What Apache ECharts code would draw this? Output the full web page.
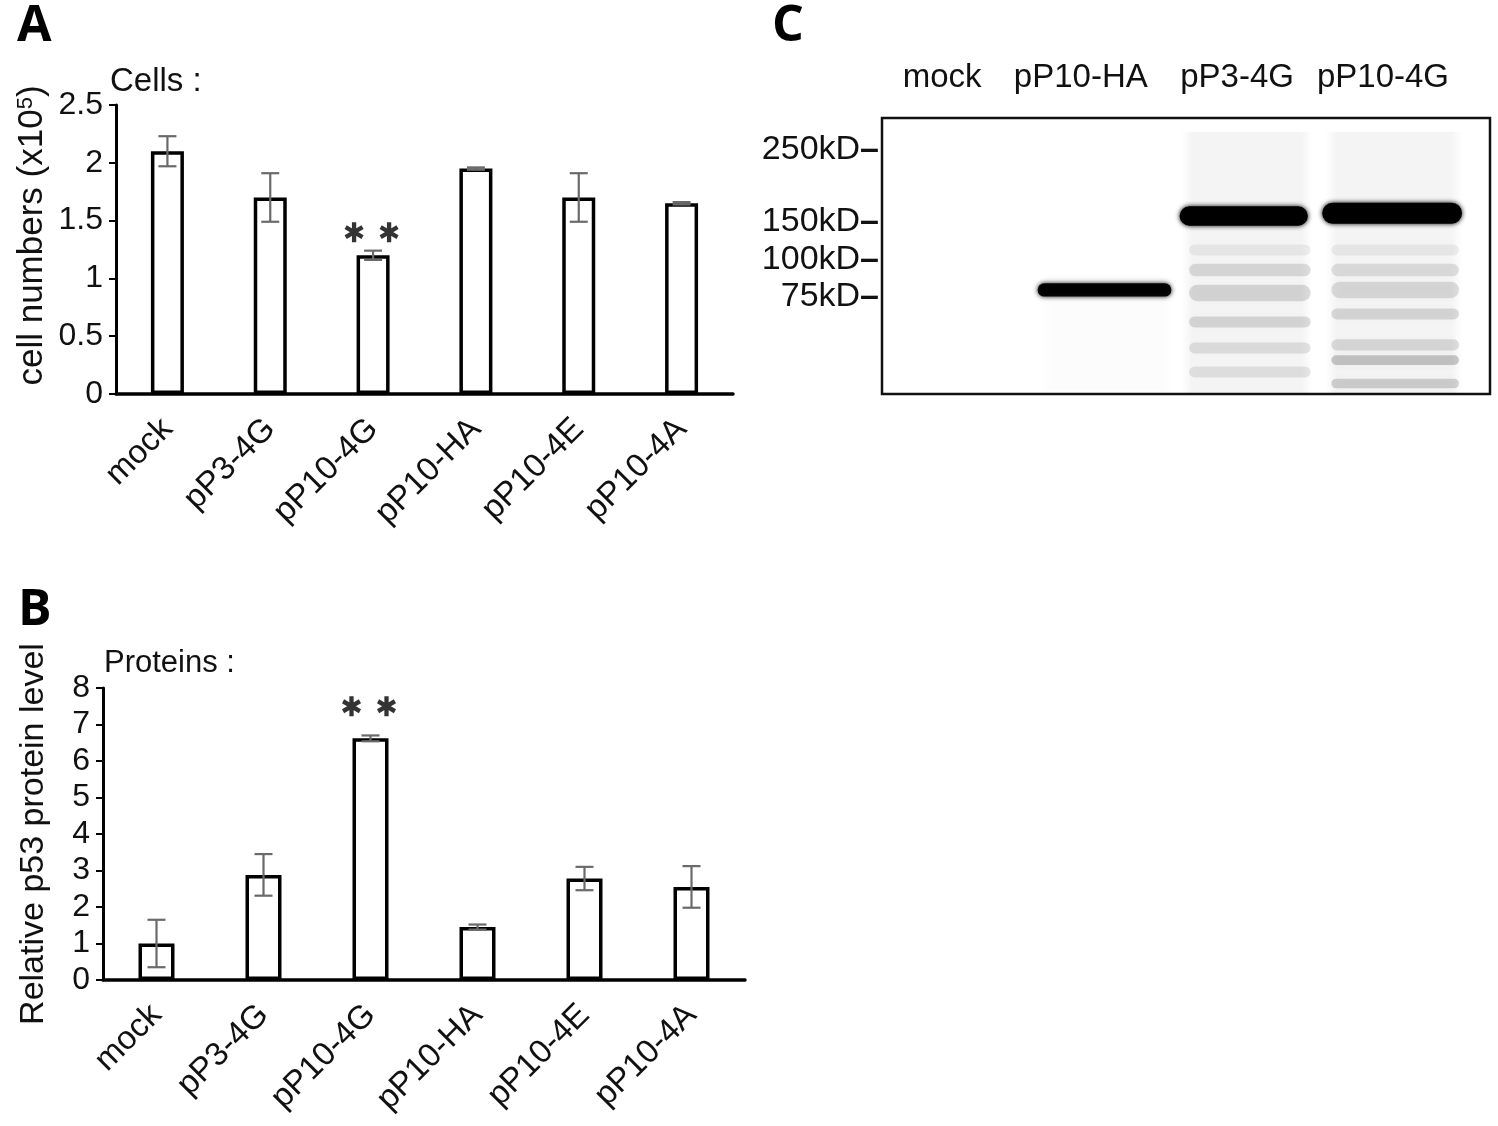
<!DOCTYPE html>
<html>
<head>
<meta charset="utf-8">
<script src="https://cdn.jsdelivr.net/npm/echarts@6/dist/echarts.min.js"></script>
<style>
  html,body{margin:0;padding:0;background:#fff}
  #fig{width:1498px;height:1126px}
</style>
</head>
<body>
<div id="fig"></div>
<script>
// bar panels
var groups = ['mock', 'pP3-4G', 'pP10-4G', 'pP10-HA', 'pP10-4E', 'pP10-4A'];
var cellMean = [2.1, 1.7, 1.2, 1.95, 1.7, 1.65];
var cellErr = [0.13, 0.21, 0.04, 0.01, 0.21, 0.01];
var protMean = [1.0, 2.88, 6.62, 1.45, 2.78, 2.55];
var protErr = [0.65, 0.57, 0.08, 0.07, 0.32, 0.57];
var cellSig = [['pP10-4G', 1.4]];
var protSig = [['pP10-4G', 7.5]];

// blot panel (x = fraction of membrane width, y = relative migration)
var lanes = ['mock', 'pP10-HA', 'pP3-4G', 'pP10-4G'];
var laneX = [0.099, 0.327, 0.584, 0.824];
var markers = ['250kD', '150kD', '100kD', '75kD'];
var markerRf = [0.116, 0.377, 0.514, 0.649];
// [x, rf, width, thickness, intensity]
var mainBands = [
  [0.366, 0.623, 0.220, 0.048, 0.95],
  [0.595, 0.355, 0.211, 0.070, 1.0],
  [0.839, 0.345, 0.230, 0.076, 1.0]
];
var faintBands = [
  [0.605, 0.478, 0.20, 0.04, 0.06],
  [0.605, 0.551, 0.20, 0.045, 0.12],
  [0.605, 0.634, 0.20, 0.06, 0.13],
  [0.605, 0.739, 0.20, 0.04, 0.13],
  [0.605, 0.833, 0.20, 0.04, 0.10],
  [0.605, 0.920, 0.20, 0.04, 0.09],
  [0.844, 0.478, 0.21, 0.04, 0.06],
  [0.844, 0.551, 0.21, 0.045, 0.11],
  [0.844, 0.623, 0.21, 0.06, 0.12],
  [0.844, 0.710, 0.21, 0.04, 0.13],
  [0.844, 0.822, 0.21, 0.04, 0.12],
  [0.844, 0.877, 0.21, 0.035, 0.2],
  [0.844, 0.962, 0.21, 0.035, 0.16]
];
var smears = [
  [0.600, 0.53, 0.215, 0.96, 0.045],
  [0.842, 0.53, 0.225, 0.96, 0.045],
  [0.370, 0.78, 0.22, 0.42, 0.012]
];

var FONT = 'Liberation Sans';

function asteriskPath() {
  var bars = [90, 30, -30], L = 10, t = 2.2, parts = [];
  bars.forEach(function (deg) {
    var a = deg * Math.PI / 180, c = Math.cos(a), s = Math.sin(a);
    var pts = [[L, t], [L, -t], [-L, -t], [-L, t]].map(function (p) {
      return (p[0] * c - p[1] * s).toFixed(2) + ',' + (p[0] * s + p[1] * c).toFixed(2);
    });
    parts.push('M' + pts.join('L') + 'Z');
  });
  return 'path://' + parts.join('');
}
var STAR = asteriskPath();

function errorItem(params, api) {
  var i = api.value(0), m = api.value(1), e = api.value(2);
  var hi = api.coord([i, m + e]), lo = api.coord([i, m - e]);
  var cap = 9, st = {stroke: '#6a6a6a', lineWidth: 2.2};
  return {
    type: 'group',
    children: [
      {type: 'line', shape: {x1: hi[0], y1: hi[1], x2: lo[0], y2: lo[1]}, style: st},
      {type: 'line', shape: {x1: hi[0] - cap, y1: hi[1], x2: hi[0] + cap, y2: hi[1]}, style: st},
      {type: 'line', shape: {x1: lo[0] - cap, y1: lo[1], x2: lo[0] + cap, y2: lo[1]}, style: st}
    ]
  };
}

function bandRect(api) {
  var x = api.value(0), rf = api.value(1), w = api.value(2), h = api.value(3);
  var p0 = api.coord([x - w / 2, rf - h / 2]);
  var p1 = api.coord([x + w / 2, rf + h / 2]);
  return {
    x: Math.min(p0[0], p1[0]), y: Math.min(p0[1], p1[1]),
    width: Math.abs(p1[0] - p0[0]), height: Math.abs(p1[1] - p0[1])
  };
}

function bandItem(blur) {
  return function (params, api) {
    var r = bandRect(api), col = 'rgba(0,0,0,' + api.value(4) + ')';
    r.r = r.height / 2;
    return {type: 'rect', shape: r, style: {fill: col, shadowBlur: blur, shadowColor: col}};
  };
}

function smearItem(params, api) {
  var r = bandRect(api), a = api.value(4);
  return {
    type: 'rect', shape: r,
    style: {
      fill: new echarts.graphic.LinearGradient(0, 0, 1, 0, [
        {offset: 0, color: 'rgba(0,0,0,0)'},
        {offset: 0.08, color: 'rgba(0,0,0,' + a + ')'},
        {offset: 0.92, color: 'rgba(0,0,0,' + a + ')'},
        {offset: 1, color: 'rgba(0,0,0,0)'}
      ]),
      shadowBlur: 12, shadowColor: 'rgba(0,0,0,' + a + ')'
    }
  };
}

function stars(sig) {
  var out = [];
  sig.forEach(function (s) {
    out.push({value: s, symbolOffset: [-19, 0]});
    out.push({value: s, symbolOffset: [16, 0]});
  });
  return out;
}

function barSet(idx, mean, err, sig, bw) {
  return [
    {
      type: 'bar', xAxisIndex: idx, yAxisIndex: idx,
      data: mean, barWidth: bw,
      itemStyle: {color: '#fff', borderColor: '#000', borderWidth: 3.5},
      z: 3
    },
    {
      type: 'custom', xAxisIndex: idx, yAxisIndex: idx,
      data: mean.map(function (m, i) { return [i, m, err[i]]; }),
      encode: {x: 0, y: 1},
      renderItem: errorItem, z: 5
    },
    {
      type: 'scatter', xAxisIndex: idx, yAxisIndex: idx,
      data: stars(sig), symbol: STAR, symbolSize: [19, 20],
      itemStyle: {color: '#000'}, z: 6
    }
  ];
}

var tickLabel = {fontSize: 32, color: '#111', fontFamily: FONT};
var letterStyle = {fontFamily: 'Open Sans', fontWeight: 'bold', fontSize: 50, color: '#000'};

var option = {
  animation: false,
  backgroundColor: '#fff',
  textStyle: {fontFamily: FONT},
  title: [
    {text: 'A', left: 17, top: 2, padding: 0, textStyle: letterStyle},
    {text: 'Cells :', left: 110, top: 65, padding: 0, textStyle: {fontFamily: FONT, fontWeight: 'normal', fontSize: 33, color: '#111'}},
    {text: 'B', left: 18, top: 586, padding: 0, textStyle: letterStyle},
    {text: 'Proteins :', left: 104, top: 648, padding: 0, textStyle: {fontFamily: FONT, fontWeight: 'normal', fontSize: 31, color: '#111'}},
    {text: 'C', left: 772, top: 2, padding: 0, textStyle: letterStyle}
  ],
  grid: [
    {left: 116, top: 105, width: 617, height: 289},
    {left: 103, top: 688, width: 642, height: 292},
    {left: 882, top: 118, width: 608, height: 276, show: true, borderColor: '#111', borderWidth: 2.5, backgroundColor: '#fff'}
  ],
  xAxis: [
    {
      type: 'category', gridIndex: 0, data: groups,
      axisLine: {lineStyle: {color: '#000', width: 3.5}},
      axisTick: {show: false},
      axisLabel: Object.assign({rotate: 45, margin: 30, interval: 0}, tickLabel, {fontSize: 33})
    },
    {
      type: 'category', gridIndex: 1, data: groups,
      axisLine: {lineStyle: {color: '#000', width: 3.5}},
      axisTick: {show: false},
      axisLabel: Object.assign({rotate: 45, margin: 30, interval: 0}, tickLabel, {fontSize: 33})
    },
    {
      type: 'value', gridIndex: 2, min: 0, max: 1, position: 'top',
      axisLine: {show: false}, axisTick: {show: false}, splitLine: {show: false},
      axisLabel: {
        customValues: laneX, margin: 24, fontSize: 33, color: '#111', fontFamily: FONT,
        formatter: function (v) { return lanes[laneX.indexOf(v)]; }
      }
    }
  ],
  yAxis: [
    {
      type: 'value', gridIndex: 0, min: 0, max: 2.5, interval: 0.5,
      name: 'cell numbers (x10{sup|5})', nameLocation: 'middle', nameRotate: 90, nameGap: 66,
      nameTextStyle: {fontSize: 35, color: '#111', fontFamily: FONT, padding: [0, 0, 0, 28],
        rich: {sup: {fontSize: 22, verticalAlign: 'top', color: '#111', fontFamily: FONT}}},
      axisLine: {show: true, lineStyle: {color: '#000', width: 3}},
      axisTick: {show: true, length: 7, lineStyle: {color: '#000', width: 2}},
      splitLine: {show: false},
      axisLabel: Object.assign({margin: 13}, tickLabel)
    },
    {
      type: 'value', gridIndex: 1, min: 0, max: 8, interval: 1,
      name: 'Relative p53 protein level', nameLocation: 'middle', nameRotate: 90, nameGap: 52,
      nameTextStyle: {fontSize: 34, color: '#111', fontFamily: FONT},
      axisLine: {show: true, lineStyle: {color: '#000', width: 3}},
      axisTick: {show: true, length: 7, lineStyle: {color: '#000', width: 2}},
      splitLine: {show: false},
      axisLabel: Object.assign({margin: 13}, tickLabel)
    },
    {
      type: 'value', gridIndex: 2, min: 0, max: 1, inverse: true,
      axisLine: {show: false}, axisTick: {show: false}, splitLine: {show: false},
      axisLabel: {
        customValues: markerRf, margin: 3, fontSize: 34, color: '#111', fontFamily: FONT,
        formatter: function (v) { return markers[markerRf.indexOf(v)] + '{d|\u2013}'; },
        rich: {d: {fontSize: 34, fontWeight: 'bold', color: '#111', fontFamily: FONT}}
      }
    }
  ],
  series: []
    .concat(barSet(0, cellMean, cellErr, cellSig, 33))
    .concat(barSet(1, protMean, protErr, protSig, 36))
    .concat([
      {type: 'custom', xAxisIndex: 2, yAxisIndex: 2, data: smears, encode: {x: 0, y: 1},
        renderItem: smearItem, clip: true, z: 2},
      {type: 'custom', xAxisIndex: 2, yAxisIndex: 2, data: faintBands, encode: {x: 0, y: 1},
        renderItem: bandItem(12), clip: true, z: 3},
      {type: 'custom', xAxisIndex: 2, yAxisIndex: 2, data: mainBands, encode: {x: 0, y: 1},
        renderItem: bandItem(5), clip: true, z: 4}
    ])
};

var chart = echarts.init(document.getElementById('fig'), null, {renderer: 'canvas'});
chart.setOption(option);
</script>
</body>
</html>
